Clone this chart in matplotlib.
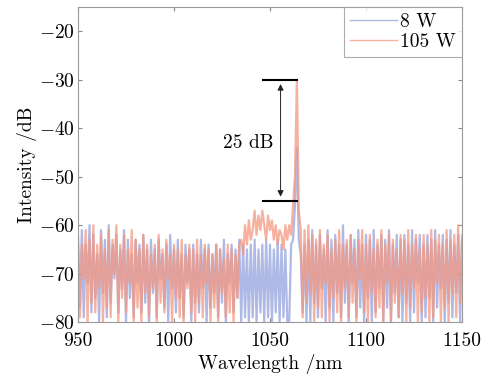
import numpy as np
import matplotlib
matplotlib.use('Agg')
from matplotlib import pyplot as plt
from matplotlib.ticker import FuncFormatter

plt.rcParams['font.family'] = 'serif'
plt.rcParams['font.serif'] = ['cmr10']
plt.rcParams['mathtext.fontset'] = 'cm'
plt.rcParams['axes.unicode_minus'] = False

wl_start, wl_stop = 950, 1150

# 8 W spectrum (dB), 1 nm steps from 950 nm
p8w = [
    -63, -77, -61, -79, -64, -72, -60, -78, -62, -75,
    -66, -80, -61, -74, -63, -79, -60, -76, -64, -71,
    -62, -78, -65, -73, -61, -80, -63, -75, -66, -79,
    -63, -72, -64, -78, -62, -76, -65, -80, -63, -74,
    -65, -79, -63, -71, -66, -77, -64, -80, -62, -73,
    -65, -78, -63, -75, -66, -79, -64, -72, -65, -80,
    -64, -76, -66, -78, -63, -73, -65, -80, -64, -77,
    -66, -74, -64, -79, -65, -76, -63, -80, -66, -72,
    -64, -78, -65, -75, -63, -80, -64, -79, -65, -80,
    -64, -79, -63, -80, -65, -78, -64, -80, -63, -79,
    -64, -80, -65, -78, -63, -80, -64, -79, -65, -80,
    -80, -64, -63, -56, -44, -63, -66, -78, -64, -80,
    -63, -80, -61, -76, -64, -79, -62, -73, -65, -80,
    -61, -77, -63, -80, -62, -74, -64, -79, -60, -76,
    -64, -80, -62, -72, -63, -79, -61, -77, -64, -80,
    -62, -75, -63, -80, -61, -78, -64, -73, -62, -80,
    -63, -77, -61, -80, -64, -74, -62, -79, -63, -80,
    -62, -76, -64, -80, -61, -78, -63, -72, -62, -80,
    -64, -79, -62, -75, -63, -80, -61, -77, -64, -73,
    -62, -80, -63, -76, -61, -79, -64, -74, -62, -80,
    -63,
]

# 105 W spectrum (dB), 1 nm steps from 950 nm
p105w = [
    -62, -79, -64, -71, -61, -80, -63, -76, -60, -78,
    -64, -73, -62, -80, -65, -77, -61, -79, -63, -70,
    -60, -80, -64, -75, -62, -78, -65, -72, -61, -80,
    -63, -77, -65, -80, -62, -74, -64, -79, -66, -73,
    -64, -80, -62, -76, -65, -78, -63, -71, -66, -80,
    -64, -75, -65, -79, -63, -80, -66, -73, -64, -78,
    -65, -80, -63, -76, -66, -79, -64, -72, -65, -80,
    -66, -77, -64, -80, -65, -74, -67, -79, -64, -78,
    -65, -80, -66, -75, -64, -63, -66, -60, -64, -59,
    -63, -61, -57, -62, -58, -61, -57, -60, -63, -58,
    -61, -59, -63, -60, -64, -61, -62, -65, -60, -63,
    -60, -62, -56, -50, -30, -57, -61, -79, -61, -76,
    -60, -74, -62, -80, -63, -77, -61, -79, -64, -72,
    -62, -80, -65, -75, -63, -78, -61, -80, -64, -73,
    -63, -79, -62, -76, -65, -80, -63, -71, -61, -78,
    -64, -80, -62, -74, -65, -79, -63, -77, -61, -80,
    -64, -72, -62, -80, -63, -76, -65, -79, -62, -74,
    -63, -80, -61, -77, -64, -73, -62, -80, -65, -78,
    -62, -75, -64, -80, -61, -79, -63, -72, -62, -80,
    -64, -77, -61, -80, -63, -74, -62, -79, -60, -76,
    -62,
]

labels = ['8 W', '105 W']
peak_db, floor_db = -30, -55
gap_text = '25 dB'

wl = np.arange(wl_start, wl_stop + 1)

fig = plt.figure(figsize=(5, 3.75), dpi=100)
ax = fig.add_axes([0.156, 0.141, 0.768, 0.840])

ax.plot(wl, p8w, color='#7b8bd6', lw=1.6, alpha=0.6, label=labels[0])
ax.plot(wl, p105w, color='#f5977f', lw=1.6, alpha=0.75, label=labels[1])

# 25 dB marker
ax.hlines([peak_db, floor_db], 1046, 1064.5, color='k', lw=1.5)
ax.annotate('', xy=(1055.5, peak_db - 0.3), xytext=(1055.5, floor_db + 0.3),
            arrowprops=dict(arrowstyle='<|-|>', color='#222222', lw=0.7,
                            mutation_scale=9))
ax.text(1038.5, -43, gap_text, fontsize=14, ha='center', va='center')

ax.set_xlim(wl_start, wl_stop)
ax.set_ylim(-80, -15)
ax.set_xticks([950, 1000, 1050, 1100, 1150])
ax.set_yticks([-80, -70, -60, -50, -40, -30, -20])
ax.yaxis.set_major_formatter(FuncFormatter(lambda v, p: r'$%d$' % v))
ax.tick_params(direction='in', labelsize=14, length=3, color='#888888',
               right=True, top=True, pad=2)
ax.tick_params(axis='x', pad=7)
for s in ax.spines.values():
    s.set_color('#999999')
    s.set_linewidth(0.8)

ax.set_xlabel('Wavelength /nm', fontsize=14, labelpad=3)
ax.set_ylabel('Intensity /dB', fontsize=14, labelpad=2)

leg = ax.legend(loc='upper right', fontsize=14, borderaxespad=0,
                fancybox=False, edgecolor='#999999', handlelength=2.4,
                handletextpad=0.2, labelspacing=0.1, borderpad=0.3)
leg.get_frame().set_linewidth(0.8)
for h in leg.get_lines():
    h.set_linewidth(1.0)

plt.savefig('out.png', dpi=100)
